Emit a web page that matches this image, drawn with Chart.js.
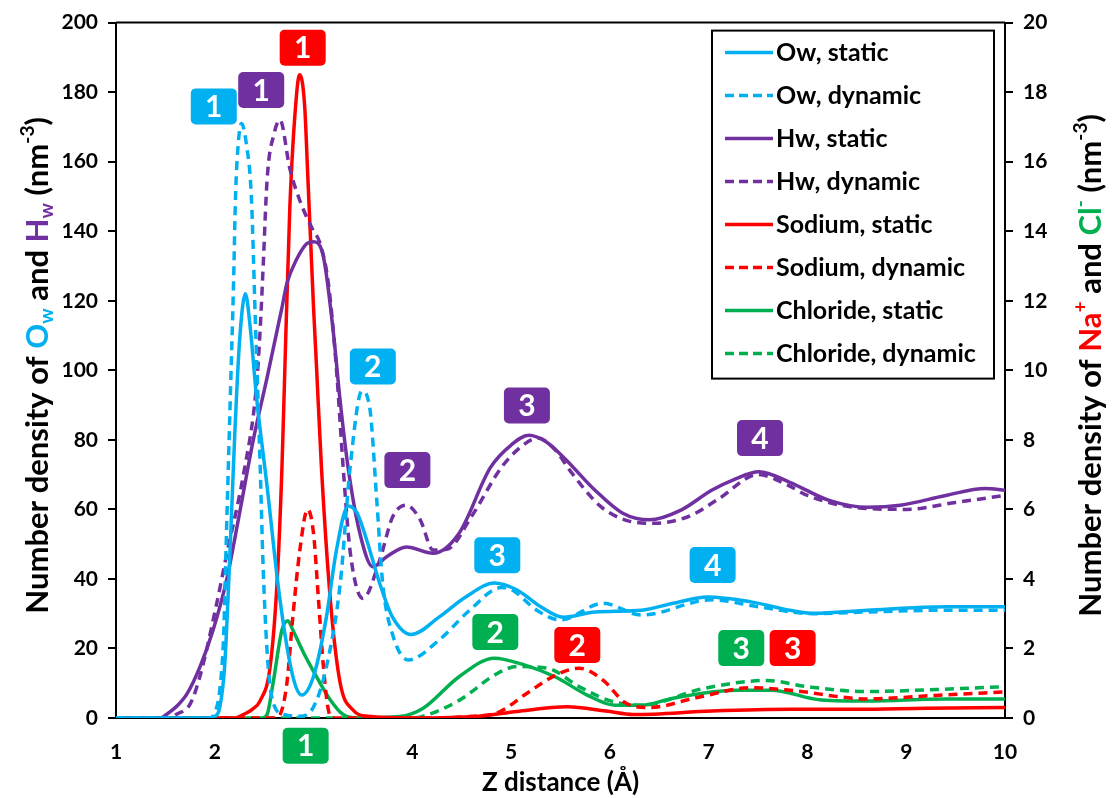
<!DOCTYPE html>
<html>
<head>
<meta charset="utf-8">
<script src="https://cdn.jsdelivr.net/npm/chart.js@4.4.1/dist/chart.umd.min.js"></script>
<style>
  html, body { margin: 0; padding: 0; background: #fff; }
  #wrap { width: 1112px; height: 798px; }
</style>
</head>
<body>
<div id="wrap"><canvas id="densityChart" width="1112" height="798"></canvas></div>
<script>
// Z distance (A) and number densities
const owStaticX = [1, 1.9, 2.0, 2.05, 2.1, 2.15, 2.2, 2.25, 2.31, 2.36, 2.42, 2.53, 2.66, 2.79, 2.88, 3.0, 3.13, 3.23, 3.35, 3.44, 3.54, 3.67, 3.8, 3.99, 4.27, 4.54, 4.83, 5.06, 5.3, 5.53, 5.85, 6.32, 6.64, 6.99, 7.43, 7.82, 8.06, 8.61, 9.4, 10];
const owStaticY = [0, 0, 0.5, 3, 15, 45, 80, 108, 122, 112, 93, 66.5, 34, 12, 6.6, 12, 29, 48, 61, 59, 51, 38.7, 29, 24, 29, 34.8, 38.8, 36.8, 32, 29, 30.5, 31, 33, 34.8, 33.4, 31, 30.1, 31, 32, 32];

const owDynX = [1, 1.95, 2.0, 2.05, 2.09, 2.12, 2.16, 2.19, 2.21, 2.24, 2.27, 2.32, 2.37, 2.41, 2.46, 2.49, 2.54, 2.61, 2.7, 2.86, 3.0, 3.13, 3.27, 3.37, 3.49, 3.57, 3.64, 3.7, 3.8, 3.96, 4.27, 4.58, 4.9, 5.0, 5.26, 5.5, 5.93, 6.32, 7.03, 7.5, 8.06, 8.6, 9.4, 10];
const owDynY = [0, 0, 1.5, 8, 24, 55, 95, 125, 150, 166, 171, 165, 150, 115, 72, 43, 15, 3, 1, 0.5, 3.2, 14.7, 38.7, 72, 94, 89, 62.6, 38.7, 24, 16.7, 22.4, 31, 37.5, 37, 31, 28.2, 33, 29.6, 34, 32, 30, 30.5, 31, 31];

const hwStaticX = [1, 1.45, 1.51, 1.62, 1.72, 1.85, 1.98, 2.12, 2.25, 2.39, 2.53, 2.68, 2.73, 2.83, 2.93, 3.0, 3.1, 3.2, 3.27, 3.35, 3.47, 3.6, 3.74, 3.94, 4.21, 4.47, 4.79, 5.0, 5.18, 5.35, 5.53, 5.85, 6.13, 6.4, 6.72, 7.03, 7.25, 7.51, 7.82, 8.22, 8.61, 8.94, 9.4, 9.8, 10];
const hwStaticY = [0, 0, 1, 3.5, 7, 14.7, 25, 39.7, 58.8, 80, 98, 118, 125, 132, 136.4, 137, 132.6, 111, 91, 72, 53, 43.5, 46.4, 49.2, 47.4, 53, 72, 78.5, 81.3, 79.5, 75, 65.5, 58.9, 57, 59.8, 65.5, 68.5, 70.8, 67.8, 62.6, 60.6, 61.2, 64, 66, 65.5];

const hwDynX = [1, 1.55, 1.61, 1.75, 1.85, 2.02, 2.12, 2.29, 2.42, 2.46, 2.49, 2.53, 2.6, 2.66, 2.76, 2.86, 3.0, 3.06, 3.15, 3.23, 3.3, 3.37, 3.5, 3.67, 3.8, 3.94, 4.08, 4.21, 4.35, 4.6, 4.9, 5.1, 5.27, 5.45, 5.6, 5.9, 6.15, 6.45, 6.8, 7.1, 7.5, 7.8, 8.0, 8.5, 9.0, 9.5, 10];
const hwDynY = [0, 0, 1, 4, 12, 33, 47, 70, 95, 112, 130, 155, 168, 172, 158, 148.9, 140, 137, 125, 101, 72, 48, 34.4, 45.4, 57.8, 61.2, 57, 48.3, 48.5, 58, 72, 78, 80.5, 77, 71, 61, 57, 56, 58, 63, 70, 67, 64, 60.5, 60, 62, 64];

const naStaticX = [1, 2.2, 2.29, 2.38, 2.46, 2.56, 2.63, 2.68, 2.71, 2.76, 2.83, 2.86, 2.91, 2.94, 3.0, 3.03, 3.08, 3.17, 3.27, 3.4, 3.55, 4.0, 4.67, 5.06, 5.57, 5.96, 6.24, 7.03, 7.82, 8.5, 9.2, 10];
const naStaticY = [0, 0, 0.1, 0.25, 0.5, 1.47, 3.87, 7.2, 10.1, 14.7, 18.0, 18.5, 17.6, 15.7, 11.8, 10.1, 7.2, 3.4, 1.0, 0.23, 0.05, 0, 0.05, 0.19, 0.32, 0.2, 0.1, 0.2, 0.25, 0.25, 0.28, 0.3];

const naDynX = [1, 2.6, 2.66, 2.73, 2.79, 2.86, 2.94, 3.0, 3.05, 3.1, 3.15, 3.2, 4.27, 4.6, 4.86, 5.18, 5.45, 5.69, 5.93, 6.16, 6.4, 6.87, 7.43, 7.82, 8.61, 9.3, 10];
const naDynY = [0, 0, 0.1, 1.0, 2.9, 4.8, 6.0, 5.3, 3.4, 1.47, 0.23, 0, 0, 0.05, 0.15, 0.75, 1.23, 1.43, 1.09, 0.43, 0.3, 0.58, 0.87, 0.8, 0.55, 0.65, 0.75];

const clStaticX = [1, 2.48, 2.53, 2.59, 2.68, 2.74, 2.79, 2.9, 3.03, 3.17, 3.3, 3.45, 3.87, 4.11, 4.47, 4.83, 5.14, 5.45, 5.77, 6.05, 6.32, 6.64, 7.27, 7.63, 8.14, 8.61, 9.4, 10];
const clStaticY = [0, 0, 0.1, 1.0, 2.53, 2.8, 2.53, 1.87, 1.19, 0.52, 0.1, 0, 0.04, 0.28, 1.18, 1.72, 1.52, 1.18, 0.66, 0.37, 0.37, 0.57, 0.8, 0.8, 0.52, 0.49, 0.55, 0.55];

const clDynX = [1, 4.0, 4.11, 4.47, 4.86, 5.06, 5.37, 5.69, 6.0, 6.32, 6.95, 7.59, 8.0, 8.61, 9.3, 10];
const clDynY = [0, 0, 0.05, 0.5, 1.28, 1.48, 1.43, 0.9, 0.5, 0.37, 0.85, 1.08, 0.9, 0.76, 0.82, 0.9];

const seriesLabels = ['Ow, static', 'Ow, dynamic', 'Hw, static', 'Hw, dynamic', 'Sodium, static', 'Sodium, dynamic', 'Chloride, static', 'Chloride, dynamic'];

// peak number badges (x in A, y on the left axis)
const badgeX = [1.99, 2.47, 2.89, 3.6, 3.95, 4.86, 5.16, 7.04, 7.52, 2.92, 4.84, 5.67, 7.33, 7.85];
const badgeY = [175.9, 180.6, 192.8, 101.1, 71.3, 46.8, 89.9, 44.0, 80.5, -8.0, 24.7, 21.0, 20.1, 20.1];
const badgeText = ['1', '1', '1', '2', '2', '3', '3', '4', '4', '1', '2', '2', '3', '3'];
const badgeColor = ['#00B0F0', '#7030A0', '#FF0000', '#00B0F0', '#7030A0', '#00B0F0', '#7030A0', '#00B0F0', '#7030A0', '#00B050', '#00B050', '#FF0000', '#00B050', '#FF0000'];

const BLUE = '#00B0F0';
const PURPLE = '#7030A0';
const RED = '#FF0000';
const GREEN = '#00B050';
const FONT = 'Lato, "Open Sans", sans-serif';

function pts(xs, ys) {
  return xs.map((x, i) => ({ x: x, y: ys[i] }));
}

function line(label, xs, ys, color, dashed, axis) {
  return {
    label: label,
    data: pts(xs, ys),
    borderColor: color,
    backgroundColor: color,
    borderWidth: 3.5,
    borderDash: dashed ? [9, 6] : [],
    pointRadius: 0,
    cubicInterpolationMode: 'monotone',
    yAxisID: axis,
    fill: false
  };
}

function drawRich(ctx, parts, cx, cy, size) {
  ctx.save();
  ctx.translate(cx, cy);
  ctx.rotate(-Math.PI / 2);
  ctx.textBaseline = 'middle';
  let total = 0;
  parts.forEach(p => {
    ctx.font = 'bold ' + (p.s ? size * 0.62 : size) + 'px ' + FONT;
    p.w = ctx.measureText(p.t).width;
    total += p.w;
  });
  let x = -total / 2;
  parts.forEach(p => {
    ctx.font = 'bold ' + (p.s ? size * 0.62 : size) + 'px ' + FONT;
    ctx.fillStyle = p.c || '#000';
    let dy = 0;
    if (p.s === 'sub') dy = size * 0.28;
    if (p.s === 'sup') dy = -size * 0.32;
    ctx.textAlign = 'left';
    ctx.fillText(p.t, x, dy);
    x += p.w;
  });
  ctx.restore();
}

const extrasPlugin = {
  id: 'extras',
  afterDraw(chart) {
    const ctx = chart.ctx;
    const a = chart.chartArea;
    const xs = chart.scales.x;
    const yl = chart.scales.y;

    // top frame line
    ctx.save();
    ctx.strokeStyle = '#000';
    ctx.lineWidth = 2;
    ctx.beginPath();
    ctx.moveTo(a.left, a.top);
    ctx.lineTo(a.right, a.top);
    ctx.stroke();
    ctx.restore();

    // axis titles
    const midY = (a.top + a.bottom) / 2 - 5;
    drawRich(ctx, [
      { t: 'Number density of ' }, { t: 'O', c: BLUE }, { t: 'w', c: BLUE, s: 'sub' },
      { t: ' and ' }, { t: 'H', c: PURPLE }, { t: 'w', c: PURPLE, s: 'sub' },
      { t: ' (nm' }, { t: '-3', s: 'sup' }, { t: ')' }
    ], 38, midY, 31);
    drawRich(ctx, [
      { t: 'Number density of ' }, { t: 'Na', c: RED }, { t: '+', c: RED, s: 'sup' },
      { t: ' and ' }, { t: 'Cl', c: GREEN }, { t: '-', c: GREEN, s: 'sup' },
      { t: ' (nm' }, { t: '-3', s: 'sup' }, { t: ')' }
    ], 1091, midY, 31);

    // legend box
    const bx = a.right - 293, by = a.top + 8, bw = 282, bh = 348;
    ctx.save();
    ctx.fillStyle = '#fff';
    ctx.fillRect(bx, by, bw, bh);
    ctx.strokeStyle = '#000';
    ctx.lineWidth = 2;
    ctx.strokeRect(bx, by, bw, bh);
    ctx.font = 'bold 25px ' + FONT;
    ctx.textBaseline = 'middle';
    ctx.textAlign = 'left';
    chart.data.datasets.forEach((ds, i) => {
      const yy = by + 22 + i * 43;
      ctx.strokeStyle = ds.borderColor;
      ctx.lineWidth = 3.5;
      ctx.setLineDash(ds.borderDash.length ? [9, 5] : []);
      ctx.beginPath();
      ctx.moveTo(bx + 13, yy);
      ctx.lineTo(bx + 61, yy);
      ctx.stroke();
      ctx.setLineDash([]);
      ctx.fillStyle = '#000';
      ctx.fillText(ds.label, bx + 64, yy);
    });
    ctx.restore();

    // peak badges
    ctx.save();
    ctx.font = 'bold 30px ' + FONT;
    ctx.textAlign = 'center';
    ctx.textBaseline = 'middle';
    badgeX.forEach((bxv, i) => {
      const px = xs.getPixelForValue(bxv);
      const py = yl.getPixelForValue(badgeY[i]);
      ctx.fillStyle = badgeColor[i];
      ctx.beginPath();
      ctx.roundRect(px - 23, py - 18, 46, 36, 5);
      ctx.fill();
      ctx.fillStyle = '#fff';
      ctx.fillText(badgeText[i], px, py + 1);
    });
    ctx.restore();
  }
};

const ctxDensity = document.getElementById('densityChart').getContext('2d');
const densityChart = new Chart(ctxDensity, {
  type: 'line',
  data: {
    datasets: [
      line(seriesLabels[0], owStaticX, owStaticY, BLUE, false, 'y'),
      line(seriesLabels[1], owDynX, owDynY, BLUE, true, 'y'),
      line(seriesLabels[2], hwStaticX, hwStaticY, PURPLE, false, 'y'),
      line(seriesLabels[3], hwDynX, hwDynY, PURPLE, true, 'y'),
      line(seriesLabels[4], naStaticX, naStaticY, RED, false, 'y2'),
      line(seriesLabels[5], naDynX, naDynY, RED, true, 'y2'),
      line(seriesLabels[6], clStaticX, clStaticY, GREEN, false, 'y2'),
      line(seriesLabels[7], clDynX, clDynY, GREEN, true, 'y2')
    ]
  },
  options: {
    responsive: false,
    animation: false,
    layout: { padding: { top: 22, left: 0, right: 0, bottom: 0 } },
    plugins: {
      legend: { display: false },
      tooltip: { enabled: false }
    },
    scales: {
      x: {
        type: 'linear',
        min: 1,
        max: 10,
        afterFit: (s) => { s.height = 80; },
        ticks: { stepSize: 1, color: '#000', font: { family: FONT, size: 21, weight: 'bold' }, padding: 14 },
        grid: { display: false },
        border: { display: true, color: '#000', width: 2 },
        title: {
          display: true,
          text: 'Z distance (\u00C5)',
          color: '#000',
          font: { family: FONT, size: 26, weight: 'bold' },
          padding: { top: 0, bottom: 0 }
        }
      },
      y: {
        position: 'left',
        min: 0,
        max: 200,
        afterFit: (s) => { s.width = 116; },
        ticks: { stepSize: 20, color: '#000', font: { family: FONT, size: 21, weight: 'bold' }, padding: 10 },
        grid: { drawOnChartArea: false, drawTicks: true, tickLength: 8, tickColor: '#000', lineWidth: 2 },
        border: { display: true, color: '#000', width: 2 }
      },
      y2: {
        position: 'right',
        min: 0,
        max: 20,
        afterFit: (s) => { s.width = 107; },
        ticks: { stepSize: 2, color: '#000', font: { family: FONT, size: 21, weight: 'bold' }, padding: 10 },
        grid: { drawOnChartArea: false, drawTicks: true, tickLength: 8, tickColor: '#000', lineWidth: 2 },
        border: { display: true, color: '#000', width: 2 }
      }
    }
  },
  plugins: [extrasPlugin]
});
</script>
</body>
</html>
